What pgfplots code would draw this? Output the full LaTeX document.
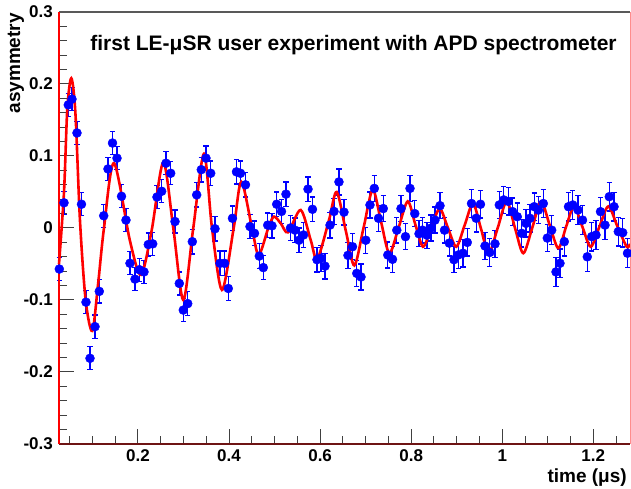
\documentclass[border=0pt]{standalone}
\usepackage{fontspec}
\setmainfont{Liberation Sans}
\usepackage{pgfplots}
\pgfplotsset{compat=1.18}
\usepackage{pgfplotstable}

\pgfplotstableread{
x y e
0.0272 -0.057 0.016
0.0375 0.035 0.016
0.0469 0.171 0.016
0.0550 0.179 0.016
0.0660 0.132 0.016
0.0759 0.033 0.016
0.0858 -0.103 0.016
0.0946 -0.181 0.016
0.1056 -0.137 0.016
0.1150 -0.088 0.016
0.1247 0.017 0.016
0.1341 0.082 0.016
0.1440 0.118 0.016
0.1539 0.097 0.016
0.1638 0.044 0.016
0.1736 0.011 0.016
0.1824 -0.049 0.016
0.1934 -0.071 0.016
0.2033 -0.058 0.016
0.2132 -0.061 0.016
0.2226 -0.023 0.016
0.2323 -0.022 0.016
0.2417 0.043 0.016
0.2520 0.051 0.016
0.2615 0.090 0.016
0.2718 0.076 0.016
0.2813 0.009 0.016
0.2907 -0.077 0.016
0.2995 -0.114 0.016
0.3092 -0.105 0.017
0.3193 -0.019 0.017
0.3289 0.046 0.017
0.3390 0.081 0.017
0.3493 0.097 0.017
0.3597 0.076 0.017
0.3691 -0.001 0.017
0.3801 -0.049 0.017
0.3900 -0.049 0.017
0.3983 -0.084 0.017
0.4075 0.0135 0.017
0.4163 0.078 0.017
0.4251 0.076 0.017
0.4361 0.060 0.017
0.4460 0.002 0.017
0.4559 -0.0074 0.017
0.4664 -0.039 0.017
0.4752 -0.055 0.017
0.4849 0.004 0.017
0.4943 0.003 0.017
0.5046 0.033 0.017
0.5152 0.023 0.017
0.5250 0.047 0.017
0.5349 0.000 0.017
0.5448 -0.003 0.017
0.5536 -0.017 0.017
0.5635 -0.0097 0.017
0.5734 0.054 0.017
0.5832 0.026 0.017
0.5931 -0.044 0.017
0.6019 -0.042 0.018
0.6107 -0.053 0.018
0.6217 0.004 0.018
0.6305 0.023 0.018
0.6414 0.064 0.018
0.6524 0.022 0.018
0.6612 -0.038 0.018
0.6711 -0.026 0.018
0.6805 -0.063 0.018
0.6898 -0.068 0.018
0.7003 -0.017 0.018
0.7095 0.032 0.018
0.7190 0.055 0.018
0.7282 0.0135 0.018
0.7387 0.027 0.018
0.7486 -0.0375 0.018
0.7590 -0.0435 0.018
0.7684 -0.003 0.018
0.7776 0.027 0.018
0.7875 -0.012 0.018
0.7974 0.055 0.018
0.8079 0.020 0.018
0.8172 -0.008 0.018
0.8248 -0.003 0.018
0.8347 -0.010 0.018
0.8435 0.000 0.018
0.8523 0.011 0.018
0.8633 0.031 0.018
0.8732 -0.003 0.018
0.8837 -0.021 0.018
0.8940 -0.044 0.018
0.9033 -0.0375 0.019
0.9138 -0.035 0.019
0.9232 -0.020 0.019
0.9325 0.034 0.019
0.9428 0.0135 0.019
0.9522 0.033 0.019
0.9621 -0.025 0.019
0.9727 -0.034 0.019
0.9841 -0.022 0.019
0.9935 0.032 0.019
1.0032 0.039 0.019
1.0133 0.037 0.019
1.0229 0.0227 0.019
1.0330 0.0157 0.019
1.0427 -0.0074 0.019
1.0522 0.0065 0.019
1.0609 0.0135 0.019
1.0702 0.0296 0.019
1.0796 0.025 0.019
1.0902 0.034 0.019
1.0990 -0.014 0.019
1.1086 -0.003 0.020
1.1181 -0.061 0.020
1.1268 -0.049 0.020
1.1363 -0.019 0.020
1.1455 0.0296 0.020
1.1549 0.032 0.020
1.1663 0.025 0.020
1.1763 0.011 0.020
1.1868 -0.040 0.020
1.1965 -0.012 0.020
1.2059 -0.0097 0.020
1.2158 0.0227 0.020
1.2257 0.004 0.020
1.2351 0.0435 0.020
1.2455 0.0296 0.020
1.2549 -0.005 0.020
1.2646 -0.0065 0.020
1.2751 -0.035 0.020
}\datatable

\pgfplotstableread{
x y
0.0265 -0.050
0.0375 0.050
0.0447 0.165
0.0535 0.208
0.0625 0.160
0.0726 0.010
0.0850 -0.100
0.0996 -0.143
0.1120 -0.080
0.1253 0.000
0.1473 0.090
0.1824 -0.018
0.2066 -0.065
0.2301 -0.003
0.2556 0.091
0.2775 0.000
0.2995 -0.100
0.3214 0.000
0.3449 0.103
0.3625 0.000
0.3845 -0.086
0.4102 0.000
0.4269 0.064
0.4504 0.000
0.4651 -0.0375
0.4871 0.002
0.4989 0.0158
0.5140 0.006
0.5296 -0.006
0.5573 0.025
0.5793 -0.0167
0.5938 -0.043
0.6195 0.011
0.6364 0.050
0.6568 -0.005
0.6751 -0.052
0.6953 0.000
0.7155 0.053
0.7337 0.009
0.7519 -0.035
0.7721 0.000
0.7924 0.037
0.8091 0.005
0.8260 -0.026
0.8442 0.000
0.8626 0.027
0.8808 0.000
0.8991 -0.026
0.9175 0.004
0.9358 0.034
0.9529 0.000
0.9702 -0.035
0.9900 0.000
1.0098 0.037
1.0280 0.000
1.0462 -0.035
1.0658 0.000
1.0851 0.037
1.1042 0.004
1.1231 -0.028
1.1404 0.002
1.1576 0.030
1.1758 0.002
1.1943 -0.026
1.2136 0.002
1.2329 0.030
1.2531 0.002
1.2733 -0.026
1.2806 -0.022
}\fittable

\definecolor{rootblue}{RGB}{0,0,255}
\definecolor{rootred}{RGB}{255,0,0}
\definecolor{darkframe}{RGB}{110,20,20}
\definecolor{lightframe}{RGB}{255,140,140}

\begin{document}
\begin{tikzpicture}
\useasboundingbox (0,0) rectangle (631pt,489pt);
\begin{axis}[
  at={(59pt,45pt)}, anchor=south west,
  scale only axis, width=571pt, height=432pt,
  xmin=0.0265, xmax=1.2806, ymin=-0.3, ymax=0.3,
  axis line style={draw=none},
  xtick={0.2,0.4,0.6,0.8,1,1.2},
  xticklabels={0.2,0.4,0.6,0.8,1,1.2},
  ytick={-0.3,-0.2,-0.1,0,0.1,0.2,0.3},
  yticklabels={-0.3,-0.2,-0.1,0,0.1,0.2,0.3},
  minor xtick={0.05,0.1,0.15,0.25,0.3,0.35,0.45,0.5,0.55,0.65,0.7,0.75,0.85,0.9,0.95,1.05,1.1,1.15,1.25},
  minor ytick={-0.28,-0.26,-0.24,-0.22,-0.18,-0.16,-0.14,-0.12,-0.08,-0.06,-0.04,-0.02,0.02,0.04,0.06,0.08,0.12,0.14,0.16,0.18,0.22,0.24,0.26,0.28},
  tick pos=left,
  tick align=inside,
  major tick length=15pt, minor tick length=7.5pt,
  tick style={black!75, line width=1pt},
  ticklabel style={font=\bfseries\fontsize{17}{17}\selectfont},
  yticklabel style={anchor=east, inner sep=0pt, xshift=-6pt},
  xticklabel style={anchor=north, inner sep=0pt, yshift=-5.5pt},
  title={first LE-μSR user experiment with APD spectrometer},
  title style={at={(rel axis cs:0.5158,0.896)}, anchor=base, inner sep=0pt, font=\bfseries\fontsize{21}{21}\selectfont},
  xlabel={time (μs)},
  xlabel style={at={(rel axis cs:0.9947,-0.088)}, anchor=base east, inner sep=0pt, font=\bfseries\fontsize{19}{19}\selectfont},
  ylabel={asymmetry},
  ylabel style={at={(rel axis cs:-0.0683,0.9977)}, anchor=base east, inner sep=0pt, font=\bfseries\fontsize{19}{19}\selectfont},
  clip=false,
]
\addplot[only marks, mark=*, mark size=4.5pt, color=rootblue,
  mark options={fill=rootblue, draw=rootblue},
  error bars/.cd, y dir=both, y explicit,
  error bar style={rootblue, line width=1.3pt},
  error mark options={rootblue, rotate=90, mark size=2.6pt, line width=1.3pt}]
  table[x=x, y=y, y error=e] {\datatable};
\addplot[rootred, line width=2.6pt, smooth, no marks] table[x=x, y=y] {\fittable};
\draw[black!65, line width=1.2pt] (rel axis cs:0,1) -- (rel axis cs:1,1);
\draw[lightframe, line width=1pt] (rel axis cs:1,0) -- (rel axis cs:1,1);
\draw[darkframe, line width=2pt] (rel axis cs:0,0) -- (rel axis cs:1,0);
\draw[rootred, line width=2pt] (rel axis cs:0,0) -- (rel axis cs:0,1);
\end{axis}
\end{tikzpicture}
\end{document}
